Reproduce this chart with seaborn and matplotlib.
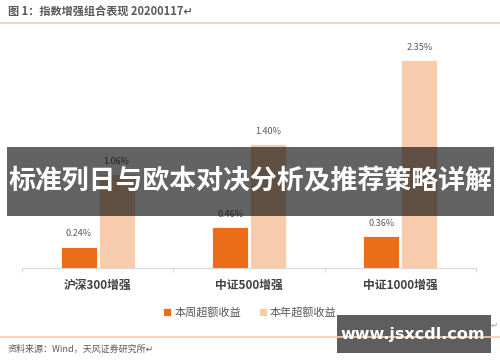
import pandas as pd
import matplotlib
matplotlib.use("Agg")
import matplotlib.pyplot as plt
import seaborn as sns
from matplotlib.patches import Rectangle

## chart data
categories = ["沪深300增强", "中证500增强", "中证1000增强"]
series_names = ["本周超额收益", "本年超额收益"]
week_excess = [0.24, 0.46, 0.36]
year_excess = [1.06, 1.40, 2.35]

title_text = "图 1：指数增强组合表现 20200117\u21b5"
source_text = "资料来源：Wind，天风证券研究所\u21b5"
banner_text = "标准列日与欧本对决分析及推荐策略详解"
watermark_text = "www.jsxcdl.com"

df = pd.DataFrame({
    "cat": categories * 2,
    "series": [series_names[0]] * 3 + [series_names[1]] * 3,
    "val": week_excess + year_excess,
})

sns.set_theme(style="white")
plt.rcParams["font.family"] = ["Noto Sans CJK SC", "DejaVu Sans"]

fig = plt.figure(figsize=(5, 3.62), dpi=100)
ax = fig.add_axes([0.044, 0.2597, 0.908, 0.63])

sns.barplot(data=df, x="cat", y="val", hue="series",
            palette=["#EB6D17", "#F8CBAD"], saturation=1, width=0.5, gap=0.05,
            ax=ax, legend=True, edgecolor="white", linewidth=0.6)

for cont in ax.containers:
    ax.bar_label(cont, fmt="%.2f%%", padding=6, fontsize=6.5, color="#595959")

ax.set_xlim(-0.5, 2.5)
ax.set_ylim(0, 2.58)
ax.set_xlabel("")
ax.set_ylabel("")
ax.set_yticks([])
ax.tick_params(axis="x", which="major", length=0, labelsize=8.5,
               labelcolor="#404040", pad=8)
ax.set_xticks([-0.5, 0.5, 1.5, 2.5], minor=True)
ax.tick_params(axis="x", which="minor", length=3, color="#D9D9D9",
               width=0.8, bottom=True)
for lab in ax.get_xticklabels():
    lab.set_fontweight("bold")
for s in ["top", "right", "left"]:
    ax.spines[s].set_visible(False)
ax.spines["bottom"].set_color("#D9D9D9")
ax.spines["bottom"].set_linewidth(0.8)

leg = ax.legend(loc="center", bbox_to_anchor=(0.5, 0.138),
                bbox_transform=fig.transFigure, ncol=2, frameon=False,
                fontsize=8, handlelength=0.7, handleheight=0.7,
                handletextpad=0.3, columnspacing=1.6)
for t in leg.get_texts():
    t.set_color("#595959")

# header / footer
fig.text(0.016, 0.965, title_text, fontsize=8, fontweight="bold",
         color="#595959", va="center", ha="left")
fig.add_artist(plt.Line2D([0, 1], [1 - 23 / 362, 1 - 23 / 362],
                          color="#F8CBAD", linewidth=1.2))
fig.add_artist(plt.Line2D([0, 1], [1 - 337 / 362, 1 - 337 / 362],
                          color="#F8CBAD", linewidth=1.2))
fig.text(0.016, 1 - 349 / 362, source_text, fontsize=6.5,
         color="#595959", va="center", ha="left")
fig.text(0.988, 1 - 325 / 362, "\u21b5", fontsize=6, color="#999999",
         va="center", ha="center")

# overlay banner
fig.add_artist(Rectangle((7 / 500, 1 - 216 / 362), 487 / 500, 69 / 362,
                         transform=fig.transFigure, facecolor="black",
                         alpha=0.61, edgecolor="none"))
fig.text(0.5, 1 - 181 / 362, banner_text, fontsize=19.4, fontweight="bold",
         color="white", va="center", ha="center")

# watermark box
fig.add_artist(Rectangle((337 / 500, 1 - 353 / 362), 154 / 500, 38 / 362,
                         transform=fig.transFigure, facecolor="#5E5E5E",
                         edgecolor="none"))
fig.text(413 / 500, 1 - 335 / 362, watermark_text, fontsize=11.5,
         fontweight="bold", color="white", va="center", ha="center",
         family=["DejaVu Sans"])

fig.savefig("out.png", dpi=100)
